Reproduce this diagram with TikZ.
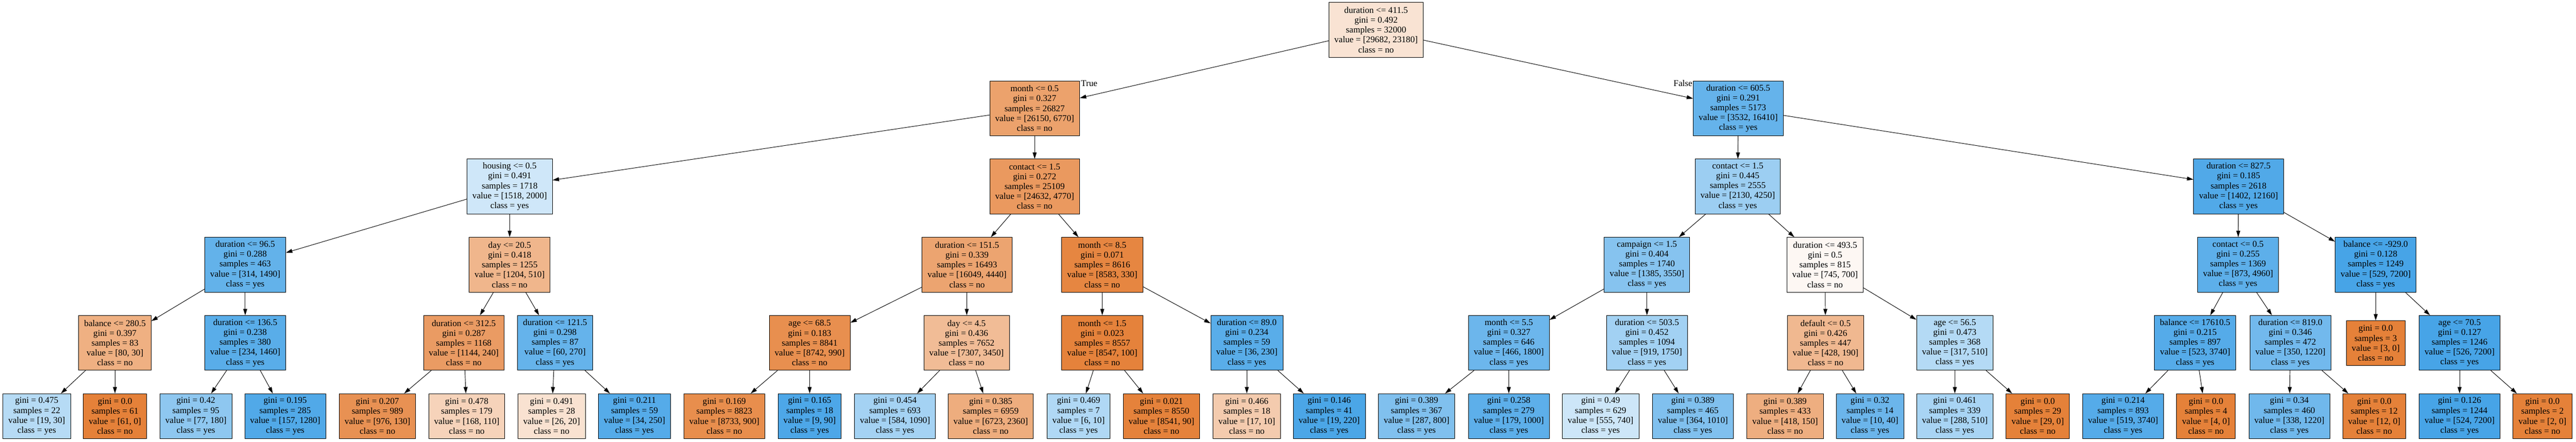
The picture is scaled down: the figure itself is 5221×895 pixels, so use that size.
\documentclass[tikz,border=0pt]{standalone}
\usepackage{fontspec}
\setmainfont{Liberation Serif}
\usetikzlibrary{arrows.meta}
\definecolor{oc}{RGB}{229,129,57}
\definecolor{bc}{RGB}{57,157,229}
\tikzset{
  box/.style={draw=black, line width=0.9pt, align=center, inner xsep=11pt, inner ysep=0pt, font=\fontsize{18}{20}\selectfont},
  inode/.style={box, minimum height=111pt},
  leaf/.style={box, minimum height=91pt},
  cno/.style={fill=oc!#1!white},
  cyes/.style={fill=bc!#1!white},
  edgeline/.style={draw, line width=1pt, -{Triangle[length=13pt,width=8pt]}},
  elabel/.style={inner sep=0pt, font=\fontsize{18}{20}\selectfont}
}
\begin{document}
\begin{tikzpicture}[x=1pt,y=-1pt]
\useasboundingbox[fill=white] (0,0) rectangle (5221,895);
% level 0
\node[inode,cno=22] (n0) at (2789,60.5) {duration <= 411.5\\gini = 0.492\\samples = 32000\\value = [29682, 23180]\\class = no};
% level 1
\node[inode,cno=74] (n1) at (2097,219.5) {month <= 0.5\\gini = 0.327\\samples = 26827\\value = [26150, 6770]\\class = no};
\node[inode,cyes=78] (n2) at (3523,219.5) {duration <= 605.5\\gini = 0.291\\samples = 5173\\value = [3532, 16410]\\class = yes};
% level 2
\node[inode,cyes=24] (n3) at (1033,378) {housing <= 0.5\\gini = 0.491\\samples = 1718\\value = [1518, 2000]\\class = yes};
\node[inode,cno=81] (n4) at (2097,378) {contact <= 1.5\\gini = 0.272\\samples = 25109\\value = [24632, 4770]\\class = no};
\node[inode,cyes=50] (n5) at (3522,378) {contact <= 1.5\\gini = 0.445\\samples = 2555\\value = [2130, 4250]\\class = yes};
\node[inode,cyes=88] (n6) at (4537,378) {duration <= 827.5\\gini = 0.185\\samples = 2618\\value = [1402, 12160]\\class = yes};
% level 3
\node[inode,cyes=79] (n7) at (497,536.5) {duration <= 96.5\\gini = 0.288\\samples = 463\\value = [314, 1490]\\class = yes};
\node[inode,cno=58] (n8) at (1033,536.5) {day <= 20.5\\gini = 0.418\\samples = 1255\\value = [1204, 510]\\class = no};
\node[inode,cno=72] (n9) at (1960,536.5) {duration <= 151.5\\gini = 0.339\\samples = 16493\\value = [16049, 4440]\\class = no};
\node[inode,cno=96] (n10) at (2234,536.5) {month <= 8.5\\gini = 0.071\\samples = 8616\\value = [8583, 330]\\class = no};
\node[inode,cyes=61] (n11) at (3338,536.5) {campaign <= 1.5\\gini = 0.404\\samples = 1740\\value = [1385, 3550]\\class = yes};
\node[inode,cno=6] (n12) at (3699,536.5) {duration <= 493.5\\gini = 0.5\\samples = 815\\value = [745, 700]\\class = no};
\node[inode,cyes=82] (n13) at (4536,536.5) {contact <= 0.5\\gini = 0.255\\samples = 1369\\value = [873, 4960]\\class = yes};
\node[inode,cyes=93] (n14) at (4815,536.5) {balance <= -929.0\\gini = 0.128\\samples = 1249\\value = [529, 7200]\\class = yes};
% level 4
\node[inode,cno=63] (n15) at (233,695) {balance <= 280.5\\gini = 0.397\\samples = 83\\value = [80, 30]\\class = no};
\node[inode,cyes=84] (n16) at (497,695) {duration <= 136.5\\gini = 0.238\\samples = 380\\value = [234, 1460]\\class = yes};
\node[inode,cno=79] (n17) at (940,695) {duration <= 312.5\\gini = 0.287\\samples = 1168\\value = [1144, 240]\\class = no};
\node[inode,cyes=78] (n18) at (1125,695) {duration <= 121.5\\gini = 0.298\\samples = 87\\value = [60, 270]\\class = yes};
\node[inode,cno=89] (n19) at (1641,695) {age <= 68.5\\gini = 0.183\\samples = 8841\\value = [8742, 990]\\class = no};
\node[inode,cno=53] (n20) at (1959,695) {day <= 4.5\\gini = 0.436\\samples = 7652\\value = [7307, 3450]\\class = no};
\node[inode,cno=99] (n21) at (2234,695) {month <= 1.5\\gini = 0.023\\samples = 8557\\value = [8547, 100]\\class = no};
\node[inode,cyes=84] (n22) at (2527,695) {duration <= 89.0\\gini = 0.234\\samples = 59\\value = [36, 230]\\class = yes};
\node[inode,cyes=74] (n23) at (3058,695) {month <= 5.5\\gini = 0.327\\samples = 646\\value = [466, 1800]\\class = yes};
\node[inode,cyes=47] (n24) at (3338,695) {duration <= 503.5\\gini = 0.452\\samples = 1094\\value = [919, 1750]\\class = yes};
\node[inode,cno=56] (n25) at (3700,695) {default <= 0.5\\gini = 0.426\\samples = 447\\value = [428, 190]\\class = no};
\node[inode,cyes=38] (n26) at (3962,695) {age <= 56.5\\gini = 0.473\\samples = 368\\value = [317, 510]\\class = yes};
\node[inode,cyes=86] (n27) at (4449,695) {balance <= 17610.5\\gini = 0.215\\samples = 897\\value = [523, 3740]\\class = yes};
\node[inode,cyes=71] (n28) at (4642,695) {duration <= 819.0\\gini = 0.346\\samples = 472\\value = [350, 1220]\\class = yes};
\node[leaf,cno=100] (n29) at (4815,695.5) {gini = 0.0\\samples = 3\\value = [3, 0]\\class = no};
\node[inode,cyes=93] (n30) at (4985,695) {age <= 70.5\\gini = 0.127\\samples = 1246\\value = [526, 7200]\\class = yes};
% level 5
\node[leaf,cyes=37] (l1) at (74.5,843.5) {gini = 0.475\\samples = 22\\value = [19, 30]\\class = yes};
\node[leaf,cno=100] (l2) at (233,843.5) {gini = 0.0\\samples = 61\\value = [61, 0]\\class = no};
\node[leaf,cyes=57] (l3) at (397,843.5) {gini = 0.42\\samples = 95\\value = [77, 180]\\class = yes};
\node[leaf,cyes=88] (l4) at (578,843.5) {gini = 0.195\\samples = 285\\value = [157, 1280]\\class = yes};
\node[leaf,cno=87] (l5) at (765,843.5) {gini = 0.207\\samples = 989\\value = [976, 130]\\class = no};
\node[leaf,cno=35] (l6) at (946,843.5) {gini = 0.478\\samples = 179\\value = [168, 110]\\class = no};
\node[leaf,cno=23] (l7) at (1118,843.5) {gini = 0.491\\samples = 28\\value = [26, 20]\\class = no};
\node[leaf,cyes=86] (l8) at (1286,843.5) {gini = 0.211\\samples = 59\\value = [34, 250]\\class = yes};
\node[leaf,cno=90] (l9) at (1468,843.5) {gini = 0.169\\samples = 8823\\value = [8733, 900]\\class = no};
\node[leaf,cyes=90] (l10) at (1641,843.5) {gini = 0.165\\samples = 18\\value = [9, 90]\\class = yes};
\node[leaf,cyes=46] (l11) at (1814,843.5) {gini = 0.454\\samples = 693\\value = [584, 1090]\\class = yes};
\node[leaf,cno=65] (l12) at (2008,843.5) {gini = 0.385\\samples = 6959\\value = [6723, 2360]\\class = no};
\node[leaf,cyes=40] (l13) at (2186,843.5) {gini = 0.469\\samples = 7\\value = [6, 10]\\class = yes};
\node[leaf,cno=99] (l14) at (2354,843.5) {gini = 0.021\\samples = 8550\\value = [8541, 90]\\class = no};
\node[leaf,cno=41] (l15) at (2527,843.5) {gini = 0.466\\samples = 18\\value = [17, 10]\\class = no};
\node[leaf,cyes=91] (l16) at (2694,843.5) {gini = 0.146\\samples = 41\\value = [19, 220]\\class = yes};
\node[leaf,cyes=64] (l17) at (2871,843.5) {gini = 0.389\\samples = 367\\value = [287, 800]\\class = yes};
\node[leaf,cyes=82] (l18) at (3058,843.5) {gini = 0.258\\samples = 279\\value = [179, 1000]\\class = yes};
\node[leaf,cyes=25] (l19) at (3244,843.5) {gini = 0.49\\samples = 629\\value = [555, 740]\\class = yes};
\node[leaf,cyes=64] (l20) at (3431,843.5) {gini = 0.389\\samples = 465\\value = [364, 1010]\\class = yes};
\node[leaf,cno=64] (l21) at (3618,843.5) {gini = 0.389\\samples = 433\\value = [418, 150]\\class = no};
\node[leaf,cyes=75] (l22) at (3790,843.5) {gini = 0.32\\samples = 14\\value = [10, 40]\\class = yes};
\node[leaf,cyes=44] (l23) at (3962,843.5) {gini = 0.461\\samples = 339\\value = [288, 510]\\class = yes};
\node[leaf,cno=100] (l24) at (4130,843.5) {gini = 0.0\\samples = 29\\value = [29, 0]\\class = no};
\node[leaf,cyes=86] (l25) at (4303,843.5) {gini = 0.214\\samples = 893\\value = [519, 3740]\\class = yes};
\node[leaf,cno=100] (l26) at (4471,843.5) {gini = 0.0\\samples = 4\\value = [4, 0]\\class = no};
\node[leaf,cyes=72] (l27) at (4640,843.5) {gini = 0.34\\samples = 460\\value = [338, 1220]\\class = yes};
\node[leaf,cno=100] (l28) at (4812,843.5) {gini = 0.0\\samples = 12\\value = [12, 0]\\class = no};
\node[leaf,cyes=93] (l29) at (4985,843.5) {gini = 0.126\\samples = 1244\\value = [524, 7200]\\class = yes};
\node[leaf,cno=100] (l30) at (5153,843.5) {gini = 0.0\\samples = 2\\value = [2, 0]\\class = no};
% edges
\foreach \a/\b in {n0/n1,n0/n2,n1/n3,n1/n4,n2/n5,n2/n6,
  n3/n7,n3/n8,n4/n9,n4/n10,n5/n11,n5/n12,n6/n13,n6/n14,
  n7/n15,n7/n16,n8/n17,n8/n18,n9/n19,n9/n20,n10/n21,n10/n22,
  n11/n23,n11/n24,n12/n25,n12/n26,n13/n27,n13/n28,n14/n29,n14/n30,
  n15/l1,n15/l2,n16/l3,n16/l4,n17/l5,n17/l6,n18/l7,n18/l8,
  n19/l9,n19/l10,n20/l11,n20/l12,n21/l13,n21/l14,n22/l15,n22/l16,
  n23/l17,n23/l18,n24/l19,n24/l20,n25/l21,n25/l22,n26/l23,n26/l24,
  n27/l25,n27/l26,n28/l27,n28/l28,n30/l29,n30/l30}
  \draw[edgeline] (\a) -- (\b);
% edge labels
\node[elabel] (tlab) at (2207.5,169) {True};
\node[elabel] (flab) at (3411,169) {False};
\end{tikzpicture}
\end{document}
